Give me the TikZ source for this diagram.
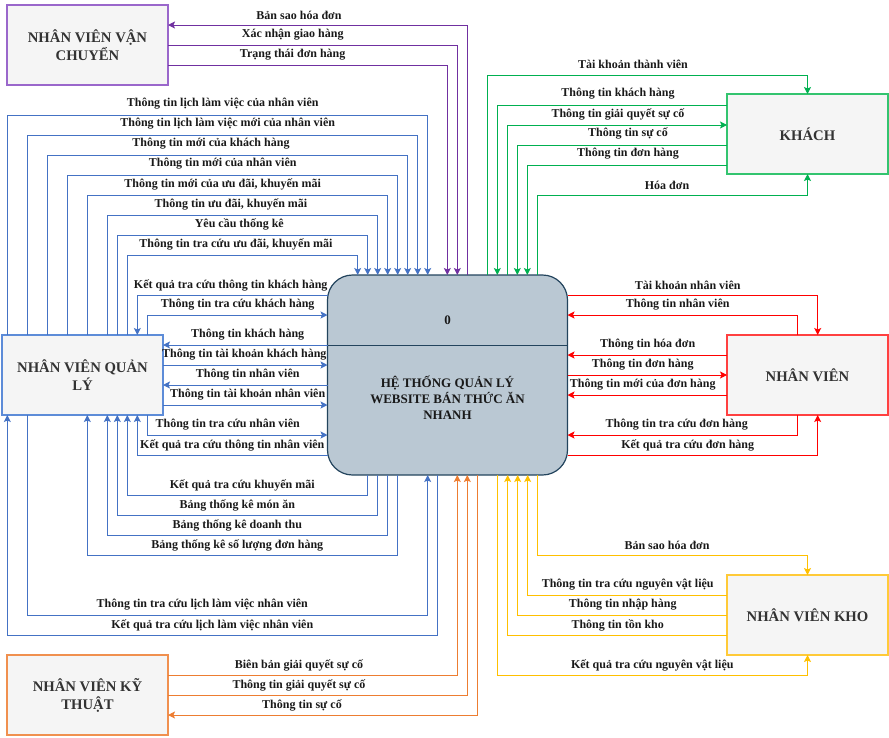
\documentclass[tikz,border=0pt]{standalone}
\usepackage{fontspec}
\setmainfont{Liberation Serif}
\usetikzlibrary{arrows.meta}
\definecolor{cB}{HTML}{4472C4}
\definecolor{cP}{HTML}{7030A0}
\definecolor{cG}{HTML}{00B050}
\definecolor{cR}{HTML}{FF0000}
\definecolor{cO}{HTML}{ED7D31}
\definecolor{cY}{HTML}{FFC000}
\definecolor{bB}{HTML}{5D8CD8}
\definecolor{bP}{HTML}{9A67CB}
\definecolor{bG}{HTML}{33C46F}
\definecolor{bR}{HTML}{FF4040}
\definecolor{bO}{HTML}{F0904F}
\definecolor{bY}{HTML}{FFCA38}
\definecolor{boxfill}{HTML}{F5F5F5}
\definecolor{txt}{HTML}{333333}
\definecolor{pF}{HTML}{BAC8D3}
\definecolor{pS}{HTML}{23445D}
\begin{document}
\begin{tikzpicture}[x=1pt,y=-1pt,
  >={Stealth[length=7pt,width=7pt,inset=1.5pt]},
  fl/.style={draw=#1, line width=1pt},
  box/.style={draw=#1, line width=2pt, fill=boxfill, minimum width=161pt, minimum height=80pt,
    inner sep=0pt, outer sep=0pt, font=\bfseries\fontsize{14.7}{18}\selectfont, text=txt, align=center},
  lb/.style={font=\bfseries\fontsize{12}{14}\selectfont, inner sep=0pt, text=black!90},
  ptxt/.style={font=\bfseries\fontsize{13}{16}\selectfont, inner sep=0pt, text=black!90, align=center}]
\useasboundingbox (0,0) rectangle (889,737);

% process
\node[draw=pS, fill=pF, line width=1.2pt, rounded corners=25pt, minimum width=240pt, minimum height=200pt,
  inner sep=0pt, outer sep=0pt] (P) at (447.5,375) {};
\draw[pS, line width=1pt] (P.west |- 0,345) -- (P.east |- 0,345);
\node[ptxt] (P0) at (447.5,320) {0};
\node[ptxt] (PT) at (447.5,398) {HỆ THỐNG QUẢN LÝ\\WEBSITE BÁN THỨC ĂN\\NHANH};

% external entities
\node[box=bP] (VC) at (87.5,45) {NHÂN VIÊN VẬN\\CHUYỂN};
\node[box=bB] (QL) at (82.5,375) {NHÂN VIÊN QUẢN\\LÝ};
\node[box=bO] (KT) at (87.5,695) {NHÂN VIÊN KỸ\\THUẬT};
\node[box=bG] (KH) at (807.5,134) {KHÁCH};
\node[box=bR] (NV) at (807.5,375) {NHÂN VIÊN};
\node[box=bY] (KO) at (807.5,615) {NHÂN VIÊN KHO};

% purple
\draw[fl=cP,->] (P.north -| 467.3,0) |- (VC.east |- 0,25);
\draw[fl=cP,->] (VC.east |- 0,45) -| (P.north -| 457.3,0);
\draw[fl=cP,->] (VC.east |- 0,65) -| (P.north -| 447.3,0);
\node[lb] (a1) at (299,15) {Bản sao hóa đơn};
\node[lb] (a2) at (292.7,35) {Xác nhận giao hàng};
\node[lb] (a3) at (292.7,55) {Trạng thái đơn hàng};

% blue top
\draw[fl=cB,->] (QL.north -| 7.3,0) -- (7.3,115) -| (P.north -| 427.7,0);
\draw[fl=cB,->] (QL.north -| 27.3,0) -- (27.3,135) -| (P.north -| 417.7,0);
\draw[fl=cB,->] (QL.north -| 47.3,0) -- (47.3,155) -| (P.north -| 407.7,0);
\draw[fl=cB,->] (QL.north -| 67.3,0) -- (67.3,175) -| (P.north -| 397.7,0);
\draw[fl=cB,->] (QL.north -| 87.3,0) -- (87.3,195) -| (P.north -| 387.7,0);
\draw[fl=cB,->] (QL.north -| 107.3,0) -- (107.3,215) -| (P.north -| 377.7,0);
\draw[fl=cB,->] (QL.north -| 117.3,0) -- (117.3,235) -| (P.north -| 367.7,0);
\draw[fl=cB,->] (QL.north -| 127.3,0) -- (127.3,255) -| (P.north -| 357.7,0);
\node[lb] (b1) at (222.7,104) {Thông tin lịch làm việc của nhân viên};
\node[lb] (b2) at (227.7,124) {Thông tin lịch làm việc mới của nhân viên};
\node[lb] (b3) at (211,144) {Thông tin mới của khách hàng};
\node[lb] (b4) at (222.7,164) {Thông tin mới của nhân viên};
\node[lb] (b5) at (222.7,184) {Thông tin mới của ưu đãi, khuyến mãi};
\node[lb] (b6) at (231,204) {Thông tin ưu đãi, khuyến mãi};
\node[lb] (b7) at (239.3,224) {Yêu cầu thống kê};
\node[lb] (b8) at (236,244) {Thông tin tra cứu ưu đãi, khuyến mãi};

% blue side
\draw[fl=cB,->] (P.west |- 0,295) -| (QL.north -| 137.3,0);
\draw[fl=cB,->] (QL.north -| 147.3,0) |- (P.west |- 0,315);
\draw[fl=cB,->] (P.west |- 0,345) -- (QL.east |- 0,345);
\draw[fl=cB,->] (QL.east |- 0,365) -- (P.west |- 0,365);
\draw[fl=cB,->] (P.west |- 0,385) -- (QL.east |- 0,385);
\draw[fl=cB,->] (QL.east |- 0,405) -- (P.west |- 0,405);
\draw[fl=cB,->] (QL.south -| 147.3,0) |- (P.west |- 0,435);
\draw[fl=cB,->] (P.west |- 0,455) -| (QL.south -| 137.3,0);
\node[lb] (c1) at (230.7,285) {Kết quả tra cứu thông tin khách hàng};
\node[lb] (c2) at (237.7,305) {Thông tin tra cứu khách hàng};
\node[lb] (c3) at (247.7,335) {Thông tin khách hàng};
\node[lb] (c4) at (244.3,355) {Thông tin tài khoản khách hàng};
\node[lb] (c5) at (247.7,375) {Thông tin nhân viên};
\node[lb] (c6) at (247.7,395) {Thông tin tài khoản nhân viên};
\node[lb] (c7) at (227.7,425) {Thông tin tra cứu nhân viên};
\node[lb] (c8) at (232.3,445) {Kết quả tra cứu thông tin nhân viên};

% blue bottom
\draw[fl=cB,->] (P.south -| 367.7,0) -- (367.7,495) -| (QL.south -| 127.3,0);
\draw[fl=cB,->] (P.south -| 377.7,0) -- (377.7,515) -| (QL.south -| 117.3,0);
\draw[fl=cB,->] (P.south -| 387.7,0) -- (387.7,535) -| (QL.south -| 107.3,0);
\draw[fl=cB,->] (P.south -| 397.7,0) -- (397.7,555) -| (QL.south -| 87.3,0);
\draw[fl=cB,->] (QL.south -| 27.3,0) -- (27.3,615) -| (P.south -| 427.7,0);
\draw[fl=cB,->] (P.south -| 437.7,0) -- (437.7,635) -| (QL.south -| 7.3,0);
\node[lb] (d1) at (242.3,485) {Kết quả tra cứu khuyến mãi};
\node[lb] (d2) at (237.3,505) {Bảng thống kê món ăn};
\node[lb] (d3) at (237.3,525) {Bảng thống kê doanh thu};
\node[lb] (d4) at (237.3,545) {Bảng thống kê số lượng đơn hàng};
\node[lb] (d5) at (202.3,605) {Thông tin tra cứu lịch làm việc nhân viên};
\node[lb] (d6) at (212.3,625) {Kết quả tra cứu lịch làm việc nhân viên};

% orange
\draw[fl=cO,->] (KT.east |- 0,675) -| (P.south -| 457.3,0);
\draw[fl=cO,->] (KT.east |- 0,695) -| (P.south -| 467.3,0);
\draw[fl=cO,->] (P.south -| 477.3,0) |- (KT.east |- 0,715);
\node[lb] (e1) at (299,665) {Biên bản giải quyết sự cố};
\node[lb] (e2) at (299,685) {Thông tin giải quyết sự cố};
\node[lb] (e3) at (302,705) {Thông tin sự cố};

% green
\draw[fl=cG,->] (P.north -| 487.3,0) -- (487.3,75) -| (KH.north);
\draw[fl=cG,->] (KH.west |- 0,105) -| (P.north -| 497.3,0);
\draw[fl=cG,->] (P.north -| 507.3,0) |- (KH.west |- 0,125);
\draw[fl=cG,->] (KH.west |- 0,145) -| (P.north -| 517.3,0);
\draw[fl=cG,->] (KH.west |- 0,165) -| (P.north -| 527.3,0);
\draw[fl=cG,->] (P.north -| 537.3,0) -- (537.3,195) -| (KH.south);
\node[lb] (f1) at (633,64) {Tài khoản thành viên};
\node[lb] (f2) at (618,94) {Thông tin khách hàng};
\node[lb] (f3) at (618,114) {Thông tin giải quyết sự cố};
\node[lb] (f4) at (628,133) {Thông tin sự cố};
\node[lb] (f5) at (628,154) {Thông tin đơn hàng};
\node[lb] (f6) at (667,185) {Hóa đơn};

% red
\draw[fl=cR,->] (P.east |- 0,295) -| (NV.north -| 817.7,0);
\draw[fl=cR,->] (NV.north -| 797.7,0) |- (P.east |- 0,315);
\draw[fl=cR,->] (NV.west |- 0,355) -- (P.east |- 0,355);
\draw[fl=cR,->] (P.east |- 0,375) -- (NV.west);
\draw[fl=cR,->] (NV.west |- 0,395) -- (P.east |- 0,395);
\draw[fl=cR,->] (NV.south -| 797.7,0) |- (P.east |- 0,435);
\draw[fl=cR,->] (P.east |- 0,455) -| (NV.south -| 817.7,0);
\node[lb] (g1) at (687.7,285) {Tài khoản nhân viên};
\node[lb] (g2) at (677.7,305) {Thông tin nhân viên};
\node[lb] (g3) at (647.7,345) {Thông tin hóa đơn};
\node[lb] (g4) at (642.7,365) {Thông tin đơn hàng};
\node[lb] (g5) at (642.7,385) {Thông tin mới của đơn hàng};
\node[lb] (g6) at (676.7,425) {Thông tin tra cứu đơn hàng};
\node[lb] (g7) at (687.7,445) {Kết quả tra cứu đơn hàng};

% yellow
\draw[fl=cY,->] (P.south -| 537.7,0) -- (537.7,555) -| (KO.north);
\draw[fl=cY,->] (KO.west |- 0,595) -| (P.south -| 527.7,0);
\draw[fl=cY,->] (KO.west |- 0,615) -| (P.south -| 517.7,0);
\draw[fl=cY,->] (KO.west |- 0,635) -| (P.south -| 507.7,0);
\draw[fl=cY,->] (P.south -| 497.3,0) -- (497.3,675) -| (KO.south);
\node[lb] (h1) at (667,545) {Bản sao hóa đơn};
\node[lb] (h2) at (627.7,585) {Thông tin tra cứu nguyên vật liệu};
\node[lb] (h3) at (622.7,605) {Thông tin nhập hàng};
\node[lb] (h4) at (617.7,625) {Thông tin tồn kho};
\node[lb] (h5) at (652.3,665) {Kết quả tra cứu nguyên vật liệu};
\end{tikzpicture}
\end{document}
